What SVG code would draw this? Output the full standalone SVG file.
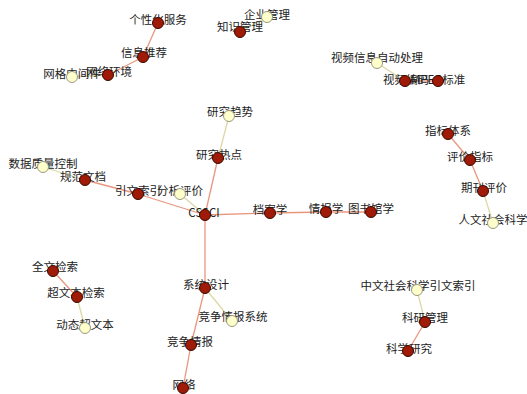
<svg xmlns="http://www.w3.org/2000/svg" width="527" height="394" viewBox="0 0 527 394">
<style>
.bg{fill:#ffffff}
.e{stroke:#E8977F;stroke-width:1.3;fill:none}
.el{stroke:#DCD8A6;stroke-width:1.3;fill:none}
.d{fill:#A01A08;stroke:#3a0800;stroke-width:1}
.l{fill:#FFFFCC;stroke:#9a9a80;stroke-width:1}
text{font-family:"Noto Sans CJK SC","Liberation Sans",sans-serif;font-size:11.5px;fill:#222;text-anchor:middle}
</style>
<rect class="bg" width="527" height="394"/>
<g id="connectors">
<line class="e" x1="158" y1="23" x2="143" y2="57"/>
<line class="e" x1="143" y1="57" x2="108" y2="75"/>
<line class="el" x1="108" y1="75" x2="72" y2="77"/>
<line class="el" x1="240" y1="32" x2="267" y2="17"/>
<line class="el" x1="377" y1="63" x2="405" y2="81"/>
<line class="e" x1="405" y1="81" x2="438" y2="81"/>
<line class="e" x1="448" y1="134" x2="470" y2="160"/>
<line class="e" x1="470" y1="160" x2="483" y2="191"/>
<line class="el" x1="483" y1="191" x2="493" y2="223"/>
<line class="el" x1="43" y1="167" x2="85" y2="180"/>
<line class="e" x1="85" y1="180" x2="138" y2="194"/>
<line class="e" x1="138" y1="194" x2="205" y2="215"/>
<line class="el" x1="180" y1="194" x2="205" y2="215"/>
<line class="e" x1="205" y1="215" x2="218" y2="158"/>
<line class="el" x1="218" y1="158" x2="229" y2="116"/>
<line class="e" x1="205" y1="215" x2="270" y2="213"/>
<line class="e" x1="270" y1="213" x2="326" y2="212"/>
<line class="e" x1="326" y1="212" x2="371" y2="212"/>
<line class="e" x1="205" y1="215" x2="205" y2="288"/>
<line class="el" x1="205" y1="288" x2="232" y2="321"/>
<line class="e" x1="205" y1="288" x2="191" y2="345"/>
<line class="e" x1="191" y1="345" x2="183" y2="388"/>
<line class="e" x1="53" y1="271" x2="77" y2="297"/>
<line class="el" x1="77" y1="297" x2="85" y2="328"/>
<line class="el" x1="417" y1="290" x2="425" y2="322"/>
<line class="e" x1="425" y1="322" x2="408" y2="351"/>
</g>
<g id="n1"><text x="158" y="24">个性化服务</text><circle class="d" cx="158" cy="23" r="5.5"/></g>
<g id="n2"><text x="144" y="57">信息推荐</text><circle class="d" cx="143" cy="57" r="5.5"/></g>
<g id="n3"><text x="109" y="76">网络环境</text><circle class="d" cx="108" cy="75" r="5.5"/></g>
<g id="n4"><text x="72" y="78">网格中间件</text><circle class="l" cx="72" cy="77" r="5.5"/></g>
<g id="n5"><text x="267" y="19">企业管理</text><circle class="l" cx="267" cy="17" r="5.5"/></g>
<g id="n6"><text x="240" y="31">知识管理</text><circle class="d" cx="240" cy="32" r="5.5"/></g>
<g id="n7"><text x="377" y="62">视频信息自动处理</text><circle class="l" cx="377" cy="63" r="5.5"/></g>
<g id="n8"><text x="406" y="84">视频编码</text><circle class="d" cx="405" cy="81" r="5.5"/></g>
<g id="n9"><text x="438" y="84">MPEG标准</text><circle class="d" cx="438" cy="81" r="5.5"/></g>
<g id="n10"><text x="448" y="135">指标体系</text><circle class="d" cx="448" cy="134" r="5.5"/></g>
<g id="n11"><text x="470" y="161">评价指标</text><circle class="d" cx="470" cy="160" r="5.5"/></g>
<g id="n12"><text x="484" y="192">期刊评价</text><circle class="d" cx="483" cy="191" r="5.5"/></g>
<g id="n13"><text x="493" y="224">人文社会科学</text><circle class="l" cx="493" cy="223" r="5.5"/></g>
<g id="n14"><text x="43" y="168">数据质量控制</text><circle class="l" cx="43" cy="167" r="5.5"/></g>
<g id="n15"><text x="83" y="181">规范文档</text><circle class="d" cx="85" cy="180" r="5.5"/></g>
<g id="n16"><text x="138" y="195">引文索引</text><circle class="d" cx="138" cy="194" r="5.5"/></g>
<g id="n17"><text x="180" y="195">分析评价</text><circle class="l" cx="180" cy="194" r="5.5"/></g>
<g id="n18"><text x="204" y="217">CSSCI</text><circle class="d" cx="205" cy="215" r="5.5"/></g>
<g id="n19"><text x="219" y="159">研究热点</text><circle class="d" cx="218" cy="158" r="5.5"/></g>
<g id="n20"><text x="230" y="116">研究趋势</text><circle class="l" cx="229" cy="116" r="5.5"/></g>
<g id="n21"><text x="270" y="214">档案学</text><circle class="d" cx="270" cy="213" r="5.5"/></g>
<g id="n22"><text x="326" y="213">情报学</text><circle class="d" cx="326" cy="212" r="5.5"/></g>
<g id="n23"><text x="371" y="213">图书馆学</text><circle class="d" cx="371" cy="212" r="5.5"/></g>
<g id="n24"><text x="206" y="289">系统设计</text><circle class="d" cx="205" cy="288" r="5.5"/></g>
<g id="n25"><text x="233" y="321">竞争情报系统</text><circle class="l" cx="232" cy="321" r="5.5"/></g>
<g id="n26"><text x="190" y="346">竞争情报</text><circle class="d" cx="191" cy="345" r="5.5"/></g>
<g id="n27"><text x="184" y="389">网络</text><circle class="d" cx="183" cy="388" r="5.5"/></g>
<g id="n28"><text x="55" y="271">全文检索</text><circle class="d" cx="53" cy="271" r="5.5"/></g>
<g id="n29"><text x="76" y="297">超文本检索</text><circle class="d" cx="77" cy="297" r="5.5"/></g>
<g id="n30"><text x="85" y="329">动态超文本</text><circle class="l" cx="85" cy="328" r="5.5"/></g>
<g id="n31"><text x="418" y="290">中文社会科学引文索引</text><circle class="l" cx="417" cy="290" r="5.5"/></g>
<g id="n32"><text x="425" y="322">科研管理</text><circle class="d" cx="425" cy="322" r="5.5"/></g>
<g id="n33"><text x="409" y="353">科学研究</text><circle class="d" cx="408" cy="351" r="5.5"/></g>
</svg>
